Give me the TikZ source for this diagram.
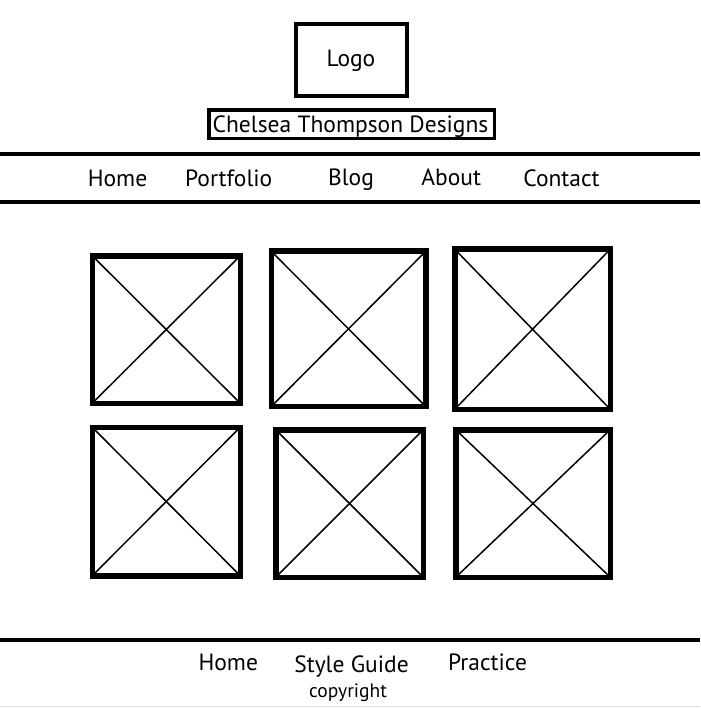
\documentclass[tikz,border=0pt]{standalone}
\usepackage{fontspec}
\setmainfont{PT Sans}
\begin{document}
\begin{tikzpicture}[x=1pt,y=-1pt,
  frame/.style={draw=black,line width=5.5pt,rectangle,inner sep=0pt,outer sep=0pt},
  diag/.style={draw=black,line width=1.5pt},
  rule/.style={draw=black,line width=4pt},
  navtext/.style={anchor=base,inner sep=0pt,font=\fontsize{23.5}{28}\selectfont},
  smalltext/.style={anchor=base,inner sep=0pt,font=\fontsize{19.5}{23}\selectfont}]
\useasboundingbox[fill=white] (0,0) rectangle (700,708);

% header
\node[draw=black,line width=4pt,minimum width=110.5pt,minimum height=72pt,inner sep=0pt,outer sep=0pt] (logo) at (351.25,60) {};
\node[navtext] (logotext) at (351,66.7) {Logo};
\node[draw=black,line width=3.3pt,minimum width=285.5pt,minimum height=28.5pt,inner sep=0pt,outer sep=0pt] (titlebox) at (351.75,124.25) {};
\node[navtext] (title) at (350.5,132.7) {Chelsea Thompson Designs};

% nav rules
\coordinate (n1l) at (0,154); \coordinate (n1r) at (700,154);
\coordinate (n2l) at (0,202); \coordinate (n2r) at (700,202);
\draw[rule] (n1l) -- (n1r);
\draw[rule] (n2l) -- (n2r);

\node[navtext] (home) at (117.5,186.7) {Home};
\node[navtext] (portfolio) at (228.7,186.7) {Portfolio};
\node[navtext] (blog) at (351,185.2) {Blog};
\node[navtext] (about) at (451.2,185.2) {About};
\node[navtext] (contact) at (561.5,186.9) {Contact};

% image placeholders
\foreach \n/\xa/\ya/\xb/\yb in {
  b1/89.5/253/243/406,
  b2/268.5/248.5/428.5/409.3,
  b3/452/246.5/613/412,
  b4/89.5/424.5/243/578.5,
  b5/273/427/426/580,
  b6/453/427/613/580}{
  \coordinate (\n-a) at (\xa+2.75,\ya+2.75);
  \coordinate (\n-b) at (\xb-2.75,\yb-2.75);
  \coordinate (\n-c) at (\xb-2.75,\ya+2.75);
  \coordinate (\n-d) at (\xa+2.75,\yb-2.75);
  \draw[diag] (\n-a) -- (\n-b);
  \draw[diag] (\n-c) -- (\n-d);
  \draw[draw=black,line width=5.5pt] (\n-a) rectangle (\n-b);
}

% footer
\coordinate (f1l) at (0,640); \coordinate (f1r) at (700,640);
\draw[rule] (f1l) -- (f1r);
\node[navtext] (fhome) at (228.3,670.7) {Home};
\node[navtext] (fstyle) at (351.5,672.5) {Style Guide};
\node[navtext] (fpractice) at (487.5,670) {Practice};
\node[smalltext] (fcopy) at (348,697.5) {copyright};
\coordinate (g1l) at (0,706.5); \coordinate (g1r) at (700,706.5);
\draw[draw=black!12,line width=1pt] (g1l) -- (g1r);
\end{tikzpicture}
\end{document}
